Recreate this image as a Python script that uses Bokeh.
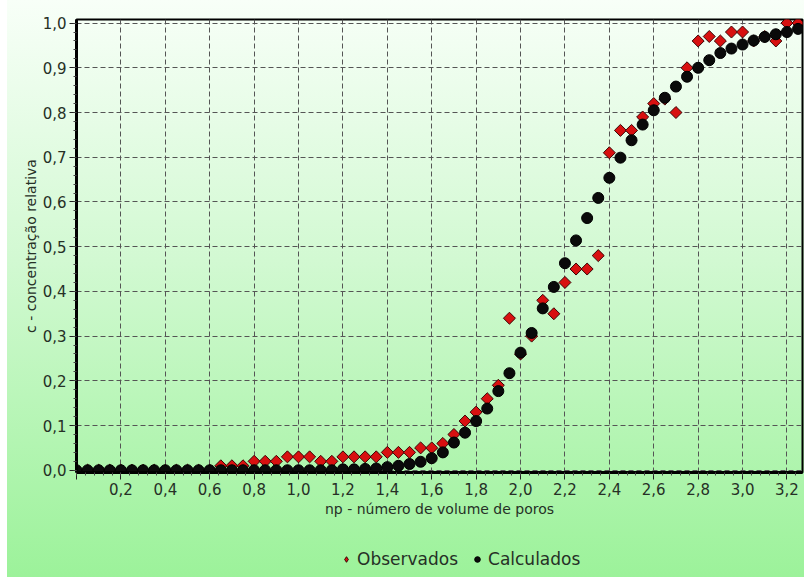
import math
from bokeh.plotting import figure
from bokeh.layouts import column
from bokeh.models import (Range1d, SingleIntervalTicker, CustomJSTickFormatter,
                          Legend, LegendItem, ColumnDataSource)
from bokeh.embed import file_html
from bokeh.resources import INLINE

np_values = [0.00, 0.05, 0.10, 0.15, 0.20, 0.25, 0.30, 0.35, 0.40, 0.45,
             0.50, 0.55, 0.60, 0.65, 0.70, 0.75, 0.80, 0.85, 0.90, 0.95,
             1.00, 1.05, 1.10, 1.15, 1.20, 1.25, 1.30, 1.35, 1.40, 1.45,
             1.50, 1.55, 1.60, 1.65, 1.70, 1.75, 1.80, 1.85, 1.90, 1.95,
             2.00, 2.05, 2.10, 2.15, 2.20, 2.25, 2.30, 2.35, 2.40, 2.45,
             2.50, 2.55, 2.60, 2.65, 2.70, 2.75, 2.80, 2.85, 2.90, 2.95,
             3.00, 3.05, 3.10, 3.15, 3.20, 3.25]

observados = [0.0, 0.0, 0.0, 0.0, 0.0, 0.0, 0.0, 0.0, 0.0, 0.0,
              0.0, 0.0, 0.0, 0.01, 0.01, 0.01, 0.02, 0.02, 0.02, 0.03,
              0.03, 0.03, 0.02, 0.02, 0.03, 0.03, 0.03, 0.03, 0.04, 0.04,
              0.04, 0.05, 0.05, 0.06, 0.08, 0.11, 0.13, 0.16, 0.19, 0.34,
              0.26, 0.30, 0.38, 0.35, 0.42, 0.45, 0.45, 0.48, 0.71, 0.76,
              0.76, 0.79, 0.82, 0.83, 0.80, 0.90, 0.96, 0.97, 0.96, 0.98,
              0.98, 0.96, 0.97, 0.96, 1.00, 1.00]

calculados = [0.0, 0.0, 0.0, 0.0, 0.0, 0.0, 0.0, 0.0, 0.0, 0.0,
              0.0, 0.0, 0.0, 0.0, 0.0, 0.0, 0.0, 0.0, 0.0, 0.0,
              0.0, 0.0, 0.0, 0.0, 0.002, 0.002, 0.003, 0.004, 0.007, 0.010,
              0.014, 0.019, 0.027, 0.040, 0.062, 0.084, 0.110, 0.138, 0.177, 0.217,
              0.263, 0.307, 0.362, 0.410, 0.463, 0.514, 0.564, 0.609, 0.654, 0.699,
              0.738, 0.773, 0.805, 0.833, 0.858, 0.880, 0.900, 0.917, 0.933, 0.943,
              0.952, 0.961, 0.969, 0.975, 0.980, 0.987]

x_label = "np - número de volume de poros"
y_label = "c - concentração relativa"
series_names = ["Observados", "Calculados"]

FONT = "DejaVu Sans"
TEXT_COLOR = "#263026"
RED_FILL, RED_LINE = "#d81010", "#3a0505"
BLK_FILL, BLK_LINE = "#0a0a0a", "black"

# ---------------- main chart ----------------
p = figure(width=804, height=530, output_backend="svg", toolbar_location=None,
           x_range=Range1d(0.0, 3.27), y_range=Range1d(-0.005, 1.008),
           min_border_left=76, min_border_right=2, min_border_top=19,
           min_border_bottom=58)
p.border_fill_color = None
p.background_fill_color = None
p.outline_line_color = "black"
p.outline_line_width = 2

src = ColumnDataSource(dict(x=np_values, obs=observados, calc=calculados))

r_obs = p.scatter("x", "obs", source=src, marker="square", angle=math.pi / 4,
                  size=8.5, fill_color=RED_FILL, line_color=RED_LINE, line_width=1)
r_calc = p.scatter("x", "calc", source=src, marker="circle", size=11,
                   fill_color=BLK_FILL, line_color=BLK_LINE, line_width=1)

p.xaxis.ticker = SingleIntervalTicker(interval=0.2, num_minor_ticks=5)
p.yaxis.ticker = SingleIntervalTicker(interval=0.1, num_minor_ticks=5)
p.xaxis.formatter = CustomJSTickFormatter(
    code="return Math.abs(tick) < 1e-9 ? '' : tick.toFixed(1).replace('.', ',');")
p.yaxis.formatter = CustomJSTickFormatter(
    code="return tick.toFixed(1).replace('.', ',');")

for ax in (p.xaxis[0], p.yaxis[0]):
    ax.axis_line_width = 3
    ax.axis_line_color = "black"
    ax.major_tick_line_color = "#222222"
    ax.major_tick_in = 0
    ax.major_tick_out = 7
    ax.minor_tick_line_color = "#444444"
    ax.minor_tick_in = 0
    ax.minor_tick_out = 3
    ax.major_label_text_font = FONT
    ax.major_label_text_font_size = "15px"
    ax.major_label_text_color = TEXT_COLOR
    ax.axis_label_text_font = FONT
    ax.axis_label_text_font_size = "14px"
    ax.axis_label_text_font_style = "normal"
    ax.axis_label_text_color = TEXT_COLOR
    ax.major_label_standoff = 3
    ax.axis_label_standoff = 3

p.yaxis.axis_label_standoff = 1
p.xaxis.axis_label = x_label
p.yaxis.axis_label = y_label

for g in (p.xgrid[0], p.ygrid[0]):
    g.grid_line_color = "#555555"
    g.grid_line_dash = "5 3"
    g.grid_line_width = 1

# ---------------- legend strip ----------------
# the key renderers share the data but their y range lies above every value,
# so only their legend glyphs are seen
lg = figure(width=804, height=51, output_backend="svg", toolbar_location=None,
            x_range=Range1d(0.0, 3.27), y_range=Range1d(10, 11),
            x_axis_location=None, y_axis_location=None,
            min_border=0, min_border_left=0, min_border_right=0,
            min_border_top=0, min_border_bottom=0)
lg.border_fill_color = None
lg.background_fill_color = None
lg.outline_line_color = None
lg.grid.visible = False

k_obs = lg.scatter("x", "obs", source=src, marker="diamond", size=13,
                   fill_color=RED_FILL, line_color=RED_LINE, line_width=1)
k_calc = lg.scatter("x", "calc", source=src, marker="circle", size=9,
                    fill_color=BLK_FILL, line_color=BLK_LINE, line_width=1)

legend = Legend(items=[LegendItem(label=series_names[0], renderers=[k_obs]),
                       LegendItem(label=series_names[1], renderers=[k_calc])],
                orientation="horizontal", location=(263, 12),
                border_line_color=None, background_fill_alpha=0,
                padding=0, margin=0, spacing=12, glyph_width=14, label_standoff=4,
                label_text_font=FONT, label_text_font_size="17px",
                label_text_color=TEXT_COLOR)
lg.add_layout(legend, "center")

layout = column(p, lg, spacing=0)
layout.styles = {
    "background-color": "white",
    "background-image": "linear-gradient(to bottom, #f8fff8 0%, #d2f9d2 45%, #9cf29a 100%)",
    "background-repeat": "no-repeat",
    "background-position": "7px 0px",
    "background-size": "797px 577px",
}

open("out.html", "w").write(file_html(layout, INLINE))
